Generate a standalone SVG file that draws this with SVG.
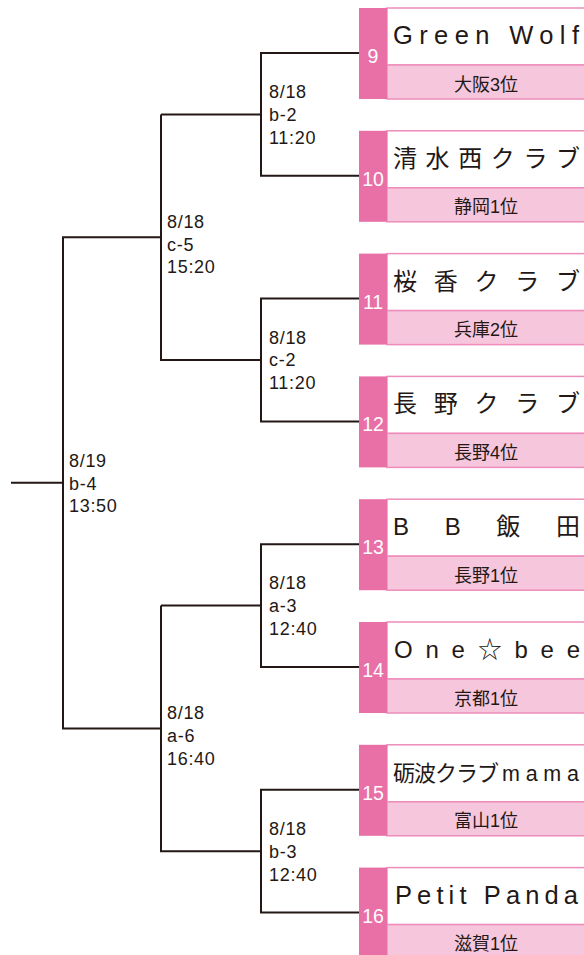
<svg xmlns="http://www.w3.org/2000/svg" width="584" height="955" viewBox="0 0 584 955">
<style>
.ln{fill:none;stroke:#231815;stroke-width:2}
.lb{font-family:"Liberation Sans","Noto Sans CJK JP",sans-serif;font-size:18px;letter-spacing:0.7px;fill:#231815}
.stripe{fill:#e870a6}
.nm{fill:#ffffff;stroke:#ee8dbb;stroke-width:1.5}
.sb{fill:#f6c6dc;stroke:#ee8dbb;stroke-width:1.5}
.num{font-family:"Liberation Sans",sans-serif;font-size:19.5px;fill:#ffffff;text-anchor:middle}
.team{font-family:"Liberation Sans","Noto Sans CJK JP",sans-serif;font-size:24px;fill:#231815}
.big{font-size:25.5px}
.pref{font-family:"Liberation Sans","Noto Sans CJK JP",sans-serif;font-size:18px;fill:#231815;text-anchor:middle}
</style>
<g id="connectors">
<path class="ln" d="M359 53H261V175.8H359M261 114.4H161"/>
<path class="ln" d="M359 298.6H261V421.4H359M261 360H161V114.4"/>
<path class="ln" d="M359 544.2H261V667H359M261 605.6H161"/>
<path class="ln" d="M359 789.8H261V912.6H359M261 851.2H161V605.6"/>
<path class="ln" d="M161 237.2H63V728.4H161M63 482.8H11"/>
</g>
<g id="labels">
<text class="lb" x="269" y="98">8/18<tspan x="269" dy="22.8">b-2</tspan><tspan x="269" dy="22.8">11:20</tspan></text>
<text class="lb" x="269" y="343.5">8/18<tspan x="269" dy="22.8">c-2</tspan><tspan x="269" dy="22.8">11:20</tspan></text>
<text class="lb" x="269" y="589">8/18<tspan x="269" dy="22.8">a-3</tspan><tspan x="269" dy="22.8">12:40</tspan></text>
<text class="lb" x="269" y="835">8/18<tspan x="269" dy="22.8">b-3</tspan><tspan x="269" dy="22.8">12:40</tspan></text>
<text class="lb" x="167" y="227.7">8/18<tspan x="167" dy="22.8">c-5</tspan><tspan x="167" dy="22.8">15:20</tspan></text>
<text class="lb" x="167" y="719">8/18<tspan x="167" dy="22.8">a-6</tspan><tspan x="167" dy="22.8">16:40</tspan></text>
<text class="lb" x="69" y="466.7">8/19<tspan x="69" dy="22.8">b-4</tspan><tspan x="69" dy="22.8">13:50</tspan></text>
</g>
<g id="team9" transform="translate(0,8)">
<rect class="nm" x="387" y="0" width="220" height="57"/><rect class="sb" x="387" y="57" width="220" height="34"/><rect class="stripe" x="359" y="0" width="28" height="91"/>
<text class="num" x="373" y="55">9</text>
<text class="team big" x="393" y="36" textLength="186" lengthAdjust="spacing">Green Wolf</text>
<text class="pref" x="486" y="82.5">大阪3位</text>
</g>
<g id="team10" transform="translate(0,130.8)">
<rect class="nm" x="387" y="0" width="220" height="57"/><rect class="sb" x="387" y="57" width="220" height="34"/><rect class="stripe" x="359" y="0" width="28" height="91"/>
<text class="num" x="373" y="55">10</text>
<text class="team" x="393" y="36" textLength="187" lengthAdjust="spacing">清水西クラブ</text>
<text class="pref" x="486" y="82.5">静岡1位</text>
</g>
<g id="team11" transform="translate(0,253.6)">
<rect class="nm" x="387" y="0" width="220" height="57"/><rect class="sb" x="387" y="57" width="220" height="34"/><rect class="stripe" x="359" y="0" width="28" height="91"/>
<text class="num" x="373" y="55">11</text>
<text class="team" x="393" y="36" textLength="187" lengthAdjust="spacing">桜香クラブ</text>
<text class="pref" x="486" y="82.5">兵庫2位</text>
</g>
<g id="team12" transform="translate(0,376.4)">
<rect class="nm" x="387" y="0" width="220" height="57"/><rect class="sb" x="387" y="57" width="220" height="34"/><rect class="stripe" x="359" y="0" width="28" height="91"/>
<text class="num" x="373" y="55">12</text>
<text class="team" x="393" y="36" textLength="187" lengthAdjust="spacing">長野クラブ</text>
<text class="pref" x="486" y="82.5">長野4位</text>
</g>
<g id="team13" transform="translate(0,499.2)">
<rect class="nm" x="387" y="0" width="220" height="57"/><rect class="sb" x="387" y="57" width="220" height="34"/><rect class="stripe" x="359" y="0" width="28" height="91"/>
<text class="num" x="373" y="55">13</text>
<text class="team" x="393" y="36" textLength="187" lengthAdjust="spacing">BB飯田</text>
<text class="pref" x="486" y="82.5">長野1位</text>
</g>
<g id="team14" transform="translate(0,622)">
<rect class="nm" x="387" y="0" width="220" height="57"/><rect class="sb" x="387" y="57" width="220" height="34"/><rect class="stripe" x="359" y="0" width="28" height="91"/>
<text class="num" x="373" y="55">14</text>
<text class="team" x="394" y="36" textLength="186" lengthAdjust="spacing">One☆bee</text>
<text class="pref" x="486" y="82.5">京都1位</text>
</g>
<g id="team15" transform="translate(0,744.8)">
<rect class="nm" x="387" y="0" width="220" height="57"/><rect class="sb" x="387" y="57" width="220" height="34"/><rect class="stripe" x="359" y="0" width="28" height="91"/>
<text class="num" x="373" y="55">15</text>
<text class="team" x="393" y="36"><tspan textLength="106" lengthAdjust="spacing" style="font-size:22px">砺波クラブ</tspan><tspan x="502" textLength="77" lengthAdjust="spacing" style="font-size:21.5px">mama</tspan></text>
<text class="pref" x="486" y="82.5">富山1位</text>
</g>
<g id="team16" transform="translate(0,867.6)">
<rect class="nm" x="387" y="0" width="220" height="57"/><rect class="sb" x="387" y="57" width="220" height="34"/><rect class="stripe" x="359" y="0" width="28" height="91"/>
<text class="num" x="373" y="55">16</text>
<text class="team big" x="395" y="36" textLength="183" lengthAdjust="spacing">Petit Panda</text>
<text class="pref" x="486" y="82.5">滋賀1位</text>
</g>
</svg>
